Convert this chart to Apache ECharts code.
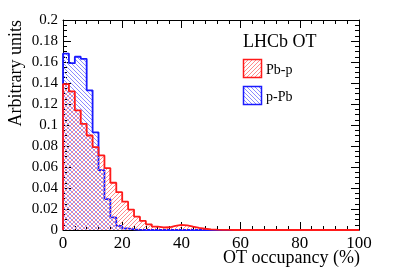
<!DOCTYPE html>
<html><head><meta charset="utf-8">
<script src="https://cdn.jsdelivr.net/npm/echarts@6/dist/echarts.min.js"></script>
<style>html,body{margin:0;padding:0;background:#fff}#c{width:399px;height:272px}</style>
</head><body><div id="c"></div>
<script>
// Bin width 2% from 0 to 100 (values per bin, left edges 0,2,4,...)
const binWidth = 2;
const pbpValues = [0.139,0.132,0.114,0.101,0.090,0.079,0.071,0.059,0.045,0.036,
                   0.027,0.0195,0.0127,0.0086,0.0054,0.0032,0.0024,0.0026,0.0040,0.0048,
                   0.0045,0.0032,0.0020,0.0012,0.0006,0.0003,0.0002,0.0001,0,0,
                   0,0,0,0,0,0,0,0,0,0,0,0,0,0,0,0,0,0,0,0];
const ppbValues = [0.168,0.159,0.165,0.163,0.133,0.093,0.057,0.0295,0.012,0.004,
                   0.0015,0.0005,0.0002,0,0,0,0,0,0,0,
                   0,0,0,0,0,0,0,0,0,0,0,0,0,0,0,0,0,0,0,0,0,0,0,0,0,0,0,0,0,0];
const xTicks = [0,20,40,60,80,100];
const yTicks = [0,0.02,0.04,0.06,0.08,0.1,0.12,0.14,0.16,0.18,0.2];
const seriesNames = ['Pb-p','p-Pb'];
const legendTitle = 'LHCb OT';
const xTitle = 'OT occupancy (%)';
const yTitle = 'Arbitrary units';

// crisp pixel hatch tile
function hatch(color, dir){
  const s = 4, c = document.createElement('canvas');
  c.width = s; c.height = s;
  const g = c.getContext('2d');
  g.fillStyle = color;
  for (let i = 0; i < s; i++){
    if (dir > 0) g.fillRect(i, s-1-i, 1, 1);   // "/"
    else g.fillRect(i, i, 1, 1);               // "\"
  }
  return c;
}
const redPat = {image: hatch('rgb(255,140,140)', 1), repeat: 'repeat'};
const bluePat = {image: hatch('rgb(140,140,255)', -1), repeat: 'repeat'};

function histPoints(vals){
  const pts = [[0,0]];
  vals.forEach((v,i)=>pts.push([i*binWidth, v]));
  pts.push([vals.length*binWidth, vals[vals.length-1]]);
  return pts;
}

const font = 'Liberation Serif';
const chart = echarts.init(document.getElementById('c'), null, {renderer:'canvas'});
const fmtY = v => String(Number(v.toFixed(3)));
const axisCommon = {
  axisLine:{show:true, onZero:false, lineStyle:{color:'#000', width:1}},
  splitLine:{show:false},
};
chart.setOption({
  animation:false,
  grid:{left:63, right:40, top:20, bottom:42},
  xAxis:[
    Object.assign({type:'value', min:0, max:100, interval:20, position:'bottom',
      axisTick:{inside:true, length:8, lineStyle:{color:'#000'}},
      minorTick:{show:true, splitNumber:5, length:4, lineStyle:{color:'#000'}},
      axisLabel:{fontFamily:font, fontSize:17, color:'#000', margin:5,
        customValues: xTicks}}, axisCommon),
    Object.assign({type:'value', min:0, max:100, interval:20, position:'top',
      axisTick:{inside:true, length:8, lineStyle:{color:'#000'}},
      minorTick:{show:true, splitNumber:5, length:4, lineStyle:{color:'#000'}},
      axisLabel:{show:false}}, axisCommon)
  ],
  yAxis:[
    Object.assign({type:'value', min:0, max:0.2, interval:0.02, position:'left',
      axisTick:{inside:true, length:8, lineStyle:{color:'#000'}},
      minorTick:{show:true, splitNumber:4, length:4, lineStyle:{color:'#000'}},
      axisLabel:{fontFamily:font, fontSize:15, color:'#000', margin:5, formatter: fmtY}}, axisCommon),
    Object.assign({type:'value', min:0, max:0.2, interval:0.02, position:'right',
      axisTick:{inside:true, length:8, lineStyle:{color:'#000'}},
      minorTick:{show:true, splitNumber:4, length:4, lineStyle:{color:'#000'}},
      axisLabel:{show:false}}, axisCommon)
  ],
  series:[
    {name:seriesNames[1], type:'line', step:'end', symbol:'none', data:histPoints(ppbValues),
     xAxisIndex:0, yAxisIndex:0, z:3,
     lineStyle:{color:'#1a1aff', width:1.8}, areaStyle:{color:bluePat, opacity:1}},
    {name:seriesNames[0], type:'line', step:'end', symbol:'none', data:histPoints(pbpValues),
     xAxisIndex:0, yAxisIndex:0, z:4,
     lineStyle:{color:'#ff1a1a', width:1.8}, areaStyle:{color:redPat, opacity:1}}
  ],
  graphic:[
    {type:'text', x:360, y:258, style:{text:xTitle, fontFamily:font, fontSize:18, fill:'#000', align:'right', verticalAlign:'middle'}},
    {type:'text', x:16, y:20, rotation:Math.PI/2, style:{text:yTitle, fontFamily:font, fontSize:18, fill:'#000', align:'right', verticalAlign:'middle'}},
    {type:'text', x:243, y:42, style:{text:legendTitle, fontFamily:font, fontSize:18, fill:'#000', align:'left', verticalAlign:'middle'}},
    {type:'rect', shape:{x:243.5, y:59.5, width:18, height:18}, style:{fill:redPat, stroke:'#ff1a1a', lineWidth:1.5}},
    {type:'text', x:266, y:70, style:{text:seriesNames[0], fontFamily:font, fontSize:14, fill:'#000', align:'left', verticalAlign:'middle'}},
    {type:'rect', shape:{x:243.5, y:86.5, width:18, height:18}, style:{fill:bluePat, stroke:'#1a1aff', lineWidth:1.5}},
    {type:'text', x:266, y:97, style:{text:seriesNames[1], fontFamily:font, fontSize:14, fill:'#000', align:'left', verticalAlign:'middle'}}
  ]
});
</script></body></html>
